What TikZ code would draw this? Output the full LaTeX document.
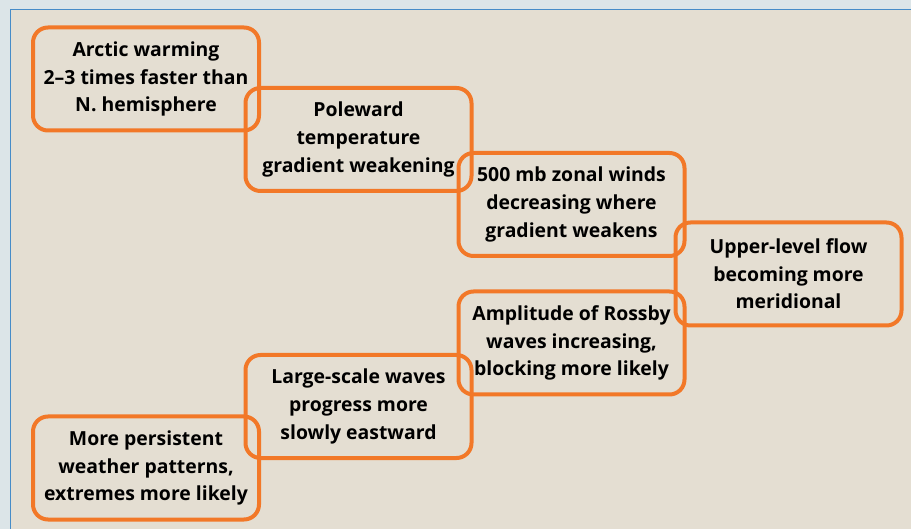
\documentclass[tikz,border=0pt]{standalone}
\usepackage{fontspec}
\setmainfont{Open Sans}
\definecolor{panelbg}{RGB}{228,222,210}
\definecolor{outerbg}{RGB}{220,229,232}
\definecolor{panelline}{RGB}{70,140,200}
\definecolor{linkorange}{RGB}{242,120,40}
\tikzset{
  linkbox/.style = {draw = linkorange, line width = 2pt, rounded corners = 7.5pt,
    minimum width = 113pt, minimum height = 51.5pt, align = center,
    font = \fontsize{9.7}{13.8}\selectfont\bfseries, inner sep = 0pt}
}
\begin{document}
\begin{tikzpicture}[x = 0.5pt, y = -0.5pt]
	 \useasboundingbox (0, 0) rectangle (911, 529);
	 \fill[outerbg] (0, 0) rectangle (911, 529);
	 \fill[panelbg] (10, 10) rectangle (911, 529);
	 \draw[panelline, line width = 0.5pt] (10, 529) -- (10, 10) -- (911, 10);
	 
	 \node[linkbox] (arctic) at (146, 79) {Arctic warming\\2–3 times faster than\\N. hemisphere};
	 \node[linkbox] (gradient) at (358.5, 139.5) {Poleward\\temperature\\gradient weakening};
	 \node[linkbox] (zonal) at (571.5, 204.5) {500 mb zonal winds\\decreasing where\\gradient weakens};
	 \node[linkbox] (flow) at (788.5, 274) {Upper-level flow\\becoming more\\meridional};
	 \node[linkbox] (rossby) at (571.5, 343) {Amplitude of Rossby\\waves increasing,\\blocking more likely};
	 \node[linkbox] (waves) at (358.5, 406.5) {Large-scale waves\\progress more\\slowly eastward};
	 \node[linkbox] (extremes) at (146, 468) {More persistent\\weather patterns,\\extremes more likely};
\end{tikzpicture}
\end{document}
